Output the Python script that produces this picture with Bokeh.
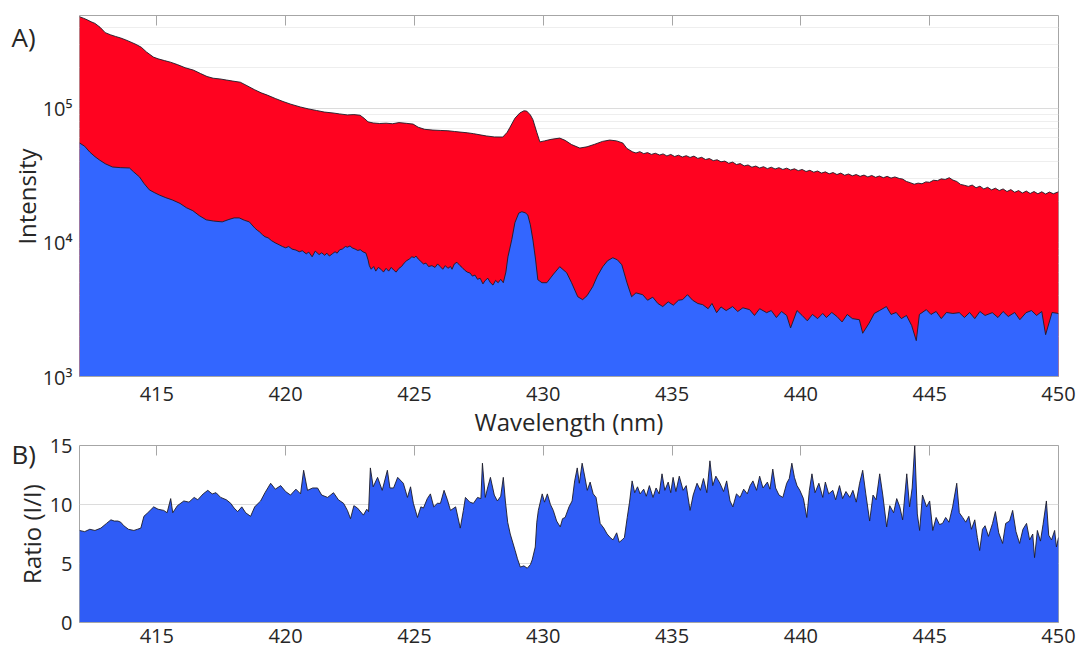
import math
from bokeh.plotting import figure
from bokeh.models import (FixedTicker, LogAxis, LinearAxis, Label, Range1d, Grid,
                          CustomJSTickFormatter, LinearScale)
from bokeh.core.properties import value
from bokeh.layouts import column, row
from bokeh.embed import file_html
from bokeh.resources import INLINE

# ---------------- data ----------------
red_wl = [412.00, 412.15, 412.30, 412.45, 412.60, 412.80, 413.00, 413.20, 413.40, 413.60,
          413.80, 414.00, 414.20, 414.40, 414.60, 414.87, 415.05, 415.30, 415.53, 415.80,
          416.10, 416.42, 416.70, 416.95, 417.19, 417.45, 417.70, 417.95, 418.24, 418.50,
          418.80, 419.05, 419.29, 419.60, 419.90, 420.20, 420.57, 420.90, 421.20, 421.50,
          421.84, 422.10, 422.40, 422.65, 422.89, 423.05, 423.20, 423.40, 423.65, 423.90,
          424.15, 424.40, 424.70, 424.95, 425.15, 425.40, 425.72, 426.00, 426.30, 426.55,
          426.77, 427.05, 427.30, 427.55, 427.80, 428.10, 428.43, 428.60, 428.71, 428.90,
          429.09, 429.25, 429.36, 429.50, 429.60, 429.75, 429.87, 430.05, 430.30, 430.64,
          430.85, 431.10, 431.42, 431.70, 432.00, 432.30, 432.58, 432.85, 433.09, 433.25,
          433.47, 433.60, 433.75, 433.90, 434.05, 434.20, 434.35, 434.52, 434.65, 434.80,
          434.95, 435.10, 435.25, 435.40, 435.55, 435.70, 435.85, 436.00, 436.15, 436.30,
          436.45, 436.60, 436.75, 436.90, 437.05, 437.20, 437.35, 437.50, 437.65, 437.80,
          437.95, 438.10, 438.25, 438.40, 438.55, 438.70, 438.85, 439.00, 439.15, 439.30,
          439.45, 439.60, 439.75, 439.90, 440.05, 440.20, 440.35, 440.50, 440.65, 440.80,
          440.95, 441.10, 441.25, 441.40, 441.55, 441.70, 441.85, 442.00, 442.15, 442.30,
          442.45, 442.60, 442.75, 442.90, 443.05, 443.20, 443.35, 443.50, 443.65, 443.82,
          443.95, 444.10, 444.25, 444.40, 444.55, 444.70, 444.85, 445.00, 445.15, 445.30,
          445.45, 445.60, 445.76, 445.90, 446.05, 446.20, 446.35, 446.50, 446.65, 446.80,
          446.95, 447.10, 447.25, 447.40, 447.55, 447.70, 447.85, 448.00, 448.15, 448.30,
          448.45, 448.60, 448.75, 448.90, 449.05, 449.20, 449.35, 449.50, 449.65, 449.80,
          450.00]
red_int = [480000, 468000, 455000, 440000, 428000, 400000, 365000, 352000, 342000, 333000,
           322000, 310000, 298000, 284000, 262000, 240000, 233000, 226000, 220000, 211000,
           200000, 192000, 181000, 172000, 167000, 165000, 162000, 159000, 156000, 147000,
           137000, 130000, 125000, 118000, 112000, 107000, 102000, 98500, 96000, 93500,
           92000, 90500, 89000, 89500, 88500, 84000, 79000, 77500, 76800, 77200,
           76500, 78000, 77000, 76000, 72000, 69500, 68600, 68200, 67800, 67000,
           66300, 65500, 64500, 63200, 62000, 61000, 60900, 66000, 72000, 84000,
           92000, 95500, 95000, 89000, 82000, 66000, 56000, 57000, 58500, 59800,
           57500, 53500, 50400, 51500, 53800, 56500, 57800, 57000, 54900, 50000,
           47200, 46300, 47400, 45800, 46600, 45200, 46100, 44700, 45600, 44000,
           45200, 43600, 44600, 43200, 44200, 42900, 43900, 42200, 43000, 41400,
           42100, 40600, 41200, 39800, 40300, 38800, 39600, 38000, 38600, 37100,
           37700, 36300, 37000, 35800, 36600, 35400, 36300, 35200, 36000, 34900,
           35700, 34600, 35300, 34200, 34900, 33700, 34400, 33300, 34000, 32800,
           33500, 32400, 33100, 32000, 32800, 31600, 32300, 31300, 32000, 31000,
           31700, 30700, 31500, 30500, 31200, 30300, 31000, 30100, 30700, 29900,
           29600, 28400, 27800, 27100, 27600, 27300, 28200, 28000, 29000, 28800,
           29700, 29400, 30300, 29100, 28400, 27000, 26600, 26100, 26700, 25500,
           26200, 25000, 25700, 24600, 25300, 24300, 25000, 23900, 24700, 23600,
           24300, 23300, 24100, 23100, 23900, 23000, 23800, 22900, 23700, 23000,
           23800]

blue_wl = [412.00, 412.20, 412.40, 412.60, 412.78, 413.00, 413.28, 413.60, 413.94, 414.10,
           414.33, 414.50, 414.71, 414.90, 415.10, 415.35, 415.60, 415.90, 416.15, 416.40,
           416.65, 416.92, 417.20, 417.54, 417.80, 418.00, 418.20, 418.40, 418.59, 418.80,
           418.90, 418.98, 419.10, 419.20, 419.32, 419.45, 419.60, 419.75, 419.88, 420.00,
           420.12, 420.25, 420.40, 420.53, 420.65, 420.80, 420.90, 421.03, 421.15, 421.30,
           421.40, 421.52, 421.60, 421.70, 421.81, 421.92, 422.00, 422.10, 422.20, 422.32,
           422.40, 422.50, 422.58, 422.70, 422.80, 422.90, 423.00, 423.12, 423.20, 423.25,
           423.32, 423.42, 423.50, 423.60, 423.70, 423.80, 423.90, 424.00, 424.10, 424.20,
           424.29, 424.40, 424.50, 424.60, 424.70, 424.80, 424.90, 425.00, 425.06, 425.15,
           425.25, 425.35, 425.45, 425.55, 425.68, 425.80, 425.90, 426.00, 426.10, 426.20,
           426.30, 426.40, 426.46, 426.55, 426.65, 426.77, 426.85, 426.95, 427.05, 427.16,
           427.25, 427.35, 427.45, 427.55, 427.66, 427.75, 427.85, 427.95, 428.05, 428.15,
           428.25, 428.35, 428.45, 428.55,
           428.63, 428.78, 428.90, 429.05, 429.17, 429.30, 429.40, 429.50, 429.60, 429.70,
           429.79, 429.95, 430.14, 430.40, 430.64, 430.91, 431.10, 431.34, 431.53, 431.70,
           431.92, 432.10, 432.31, 432.50, 432.70, 432.88, 433.05, 433.25, 433.43, 433.60,
           433.86, 434.05, 434.25, 434.45, 434.64, 434.85, 435.05, 435.25, 435.41, 435.60,
           435.80, 436.00, 436.19, 436.40, 436.55, 436.73, 436.90, 437.10, 437.35, 437.55,
           437.75, 438.01, 438.20, 438.40, 438.67, 438.85, 439.05, 439.25, 439.45, 439.60,
           439.85, 440.05, 440.25, 440.45, 440.65, 440.85, 440.99, 441.20, 441.40, 441.60,
           441.80, 442.00, 442.27, 442.40, 442.65, 442.85, 443.05, 443.32, 443.50, 443.70,
           443.90, 444.10, 444.30, 444.48, 444.60, 444.87, 445.05, 445.25, 445.45, 445.65,
           445.90, 446.15, 446.35, 446.55, 446.75, 446.95, 447.15, 447.43, 447.65, 447.85,
           448.05, 448.30, 448.50, 448.74, 448.95, 449.15, 449.35, 449.50, 449.75, 450.00]
blue_int = [55000, 52000, 47000, 43500, 41000, 38500, 36400, 36000, 35800, 33500,
            30700, 27500, 24600, 23500, 22500, 21500, 20700, 19500, 18100, 17200,
            15800, 14700, 14400, 14200, 14800, 15200, 15200, 14600, 14200, 12800,
            12300, 12000, 11400, 11000, 10800, 10300, 9900, 9580, 9300, 9100,
            9300, 8900, 8750, 8500, 8650, 8200, 8450, 7800, 8600, 8100,
            8350, 8000, 8300, 7900, 8200, 8500, 8300, 8800, 8900, 9300,
            9200, 9400, 9100, 8900, 8700, 8800, 8500, 8300, 7400, 6700,
            6300, 6600, 6100, 6500, 6300, 6000, 6400, 6100, 6500, 6200,
            6000, 6400, 6600, 7000, 7300, 7500, 7800, 7700, 7900, 7500,
            7200, 6900, 7000, 6600, 6700, 6500, 6900, 6600, 6300, 6700,
            6400, 6600, 6300, 6900, 7100, 6700, 6500, 6200, 6000, 5900,
            5600, 5700, 5300, 5400, 4900, 5200, 5400, 5000, 4800, 5200,
            5000, 5300, 5000, 6000,
            7800, 10500, 14000, 16500, 16900, 16600, 16000, 13500, 10400, 7500,
            5260, 5000, 5000, 5800, 6580, 5930, 5000, 3930, 3740, 4000,
            4670, 5600, 6580, 7300, 7670, 7400, 6800, 5000, 3930, 4200,
            4070, 3700, 3900, 3500, 3320, 3600, 3400, 3700, 3740, 4070,
            3700, 3500, 3430, 3200, 3500, 2990, 3300, 3100, 3320, 3050,
            3250, 3150, 2850, 3200, 2990, 3100, 2750, 3050, 2850, 2300,
            3100, 2850, 2600, 2900, 2700, 2950, 2750, 3000, 2800, 2550,
            2900, 2700, 2650, 2100, 2500, 2950, 3100, 3320, 2900, 3000,
            2700, 2850, 2400, 1850, 2900, 3150, 2900, 3050, 2700, 3000,
            2950, 2990, 2750, 3000, 2700, 3050, 2850, 2990, 2750, 3050,
            2800, 3000, 2650, 2990, 3100, 2850, 3050, 2050, 3000, 2950]

ratio_wl = [412.00, 412.20, 412.40, 412.60, 412.83, 413.05, 413.22, 413.35, 413.49, 413.60,
            413.72, 413.90, 414.11, 414.25, 414.38, 414.50, 414.65, 414.88, 415.05, 415.27,
            415.40, 415.54, 415.62, 415.80, 416.05, 416.25, 416.45, 416.59, 416.80, 416.98,
            417.15, 417.30, 417.48, 417.70, 417.87, 418.00, 418.14, 418.30, 418.45, 418.64,
            418.80, 419.03, 419.20, 419.42, 419.60, 419.81, 420.00, 420.19, 420.40, 420.58,
            420.70, 420.85, 421.05, 421.24, 421.40, 421.63, 421.86, 422.05, 422.25, 422.40,
            422.52, 422.65, 422.79, 423.02, 423.15, 423.22, 423.29, 423.40, 423.57, 423.75,
            423.95, 424.05, 424.19, 424.35, 424.57, 424.73, 424.85, 424.96, 425.12, 425.25,
            425.35, 425.50, 425.62, 425.75, 425.89, 426.01, 426.15, 426.28, 426.40, 426.60,
            426.78, 426.90, 426.98, 427.15, 427.29, 427.45, 427.58, 427.64, 427.75, 427.85,
            427.95, 428.10, 428.22, 428.35, 428.45, 428.53, 428.62, 428.72, 428.91, 429.00,
            429.11, 429.25, 429.38, 429.50, 429.57, 429.69, 429.75, 429.81, 429.96, 430.05,
            430.16, 430.28, 430.39, 430.52, 430.66, 430.75, 430.85, 431.00, 431.12, 431.22,
            431.32, 431.40, 431.51, 431.60, 431.71, 431.82, 431.94, 432.05, 432.21, 432.35,
            432.48, 432.60, 432.71, 432.85, 432.95, 433.06, 433.15, 433.26, 433.35, 433.45,
            433.55, 433.66, 433.76, 433.90, 434.00, 434.12, 434.26, 434.38, 434.50, 434.61,
            434.72, 434.85, 434.95, 435.04, 435.15, 435.28, 435.43, 435.55, 435.70, 435.82,
            435.97, 436.10, 436.22, 436.35, 436.47, 436.58, 436.70, 436.86, 437.00, 437.12,
            437.25, 437.36, 437.50, 437.64, 437.78, 437.92, 438.03, 438.14, 438.28, 438.40,
            438.53, 438.70, 438.80, 438.91, 439.02, 439.15, 439.30, 439.45, 439.55, 439.65,
            439.75, 439.85, 439.96, 440.10, 440.23, 440.33, 440.43, 440.55, 440.70, 440.85,
            440.95, 441.08, 441.24, 441.35, 441.50, 441.62, 441.75, 441.90, 442.02, 442.15,
            442.28, 442.40, 442.52, 442.67, 442.80, 442.92, 443.06, 443.18, 443.33, 443.45,
            443.60, 443.72, 443.84, 443.95, 444.11, 444.22, 444.32, 444.42, 444.52, 444.61,
            444.72, 444.88, 445.00, 445.12, 445.25, 445.38, 445.50, 445.62, 445.75, 445.89,
            446.05, 446.15, 446.28, 446.40, 446.52, 446.62, 446.75, 446.85, 446.94, 447.05,
            447.15, 447.28, 447.44, 447.55, 447.68, 447.83, 447.95, 448.10, 448.22, 448.35,
            448.49, 448.62, 448.76, 448.88, 449.00, 449.07, 449.18, 449.30, 449.40, 449.53,
            449.62, 449.73, 449.85, 449.92, 450.00]
ratio_val = [7.8, 7.7, 7.9, 7.8, 8.0, 8.4, 8.7, 8.6, 8.6, 8.5,
             8.2, 7.9, 7.8, 7.9, 8.0, 9.0, 9.3, 9.8, 9.6, 9.5,
             9.3, 10.5, 9.3, 9.9, 10.3, 10.2, 10.6, 10.4, 10.9, 11.2,
             10.9, 11.0, 10.6, 10.4, 10.1, 9.7, 9.4, 9.8, 9.3, 9.0,
             9.8, 10.3, 11.0, 11.8, 11.3, 11.6, 11.1, 10.8, 11.3, 10.9,
             12.9, 11.2, 11.4, 11.4, 10.8, 10.6, 11.0, 10.4, 10.1, 9.5,
             8.8, 9.9, 9.7, 9.1, 9.6, 9.4, 13.1, 11.5, 12.3, 11.2,
             12.9, 11.4, 11.4, 12.3, 11.8, 10.6, 11.5, 10.1, 8.9, 9.8,
             9.7, 10.5, 10.9, 9.8, 10.1, 10.1, 11.2, 10.4, 9.5, 9.8,
             8.0, 9.5, 10.6, 10.2, 10.1, 10.6, 10.5, 13.5, 10.6, 11.5,
             12.3, 10.8, 10.3, 10.7, 12.3, 10.3, 8.5, 7.5, 6.1, 5.4,
             4.7, 4.8, 4.6, 4.9, 5.3, 6.4, 8.5, 9.5, 10.9, 10.2,
             10.9, 10.0, 9.5, 8.6, 8.1, 8.8, 8.9, 9.8, 10.3, 12.0,
             13.1, 11.8, 13.5, 12.5, 11.2, 11.9, 10.9, 10.6, 8.4, 8.0,
             7.5, 7.2, 7.0, 7.6, 6.8, 7.0, 7.2, 8.9, 10.2, 12.0,
             11.0, 11.5, 10.9, 11.3, 10.7, 11.6, 10.6, 11.4, 10.9, 12.6,
             11.2, 11.9, 11.0, 12.3, 11.1, 12.4, 11.2, 11.6, 9.5, 10.8,
             11.8, 11.2, 12.2, 11.0, 13.7, 11.6, 12.4, 11.8, 11.1, 12.0,
             10.3, 9.8, 10.9, 10.6, 11.3, 10.9, 11.6, 12.0, 11.2, 12.4,
             11.4, 11.9, 11.3, 13.0, 11.4, 10.8, 10.6, 11.8, 12.2, 13.5,
             12.3, 11.6, 11.2, 10.5, 8.9, 11.2, 12.6, 11.0, 11.8, 10.6,
             11.9, 10.9, 11.2, 10.4, 11.6, 10.5, 11.1, 10.6, 11.2, 10.2,
             11.8, 12.9, 10.9, 8.6, 10.8, 10.4, 12.6, 10.8, 8.1, 9.9,
             9.3, 10.5, 9.8, 8.7, 12.6, 9.8, 11.4, 15.0, 9.2, 7.8,
             10.8, 9.8, 10.3, 7.8, 8.9, 8.3, 8.4, 8.9, 8.5, 9.8,
             11.8, 9.3, 8.9, 8.5, 9.0, 7.9, 8.7, 7.2, 6.1, 7.9,
             8.2, 7.3, 8.4, 9.4, 7.6, 6.7, 8.4, 8.6, 9.5, 7.7,
             6.7, 7.9, 8.4, 7.0, 7.5, 5.5, 7.8, 6.9, 8.3, 10.3,
             7.4, 7.0, 7.8, 6.4, 7.2]

x_ticks = [415, 420, 425, 430, 435, 440, 445, 450]
int_ticks = [1e3, 1e4, 1e5]
int_tick_labels = ["10\u00b3", "10\u2074", "10\u2075"]
int_minor = [2e3, 3e3, 4e3, 5e3, 6e3, 7e3, 8e3, 9e3,
             2e4, 3e4, 4e4, 5e4, 6e4, 7e4, 8e4, 9e4,
             2e5, 3e5, 4e5]
ratio_ticks = [0, 5, 10, 15]
ratio_tick_labels = ["0", "5", "10", "15"]

X_RANGE = (412, 450)
INT_RANGE = (1e3, 4.9e5)
RATIO_RANGE = (0, 15)

# ---------------- layout geometry (pixels) ----------------
W, H = 1076, 651
LEFT = 79            # width of the left label column
RIGHT_PAD = 18
A_TOP, A_BOTTOM = 15, 377      # frame of panel A
B_TOP, B_BOTTOM = 445, 622     # frame of panel B
P1_H = 440
P2_H = H - P1_H

# ---------------- styles ----------------
RED = "#FF0320"
BLUE = "#3366FF"
BLUE2 = "#2F5CF6"
EDGE = "#1c1c28"
FRAME = "#a6a6a6"
TXT = "#262626"
FONT = "Open Sans"

BLANK = CustomJSTickFormatter(code="return '';")


def mirror_axis(cls, ticks, minor, side, p):
    ax = cls(ticker=FixedTicker(ticks=ticks, minor_ticks=minor),
             formatter=BLANK,
             major_tick_in=10, major_tick_out=0,
             minor_tick_in=5 if minor else 0, minor_tick_out=0,
             major_label_standoff=0, major_label_text_font_size="1px",
             axis_line_color=None, major_tick_line_color=FRAME,
             minor_tick_line_color=FRAME, level="underlay")
    p.add_layout(ax, side)


def style_panel(p, ticks, minor, x_standoff, log):
    p.outline_line_color = FRAME
    p.outline_line_width = 1
    p.background_fill_color = "white"
    p.border_fill_color = "white"
    for g in p.grid:
        g.visible = False
    p.add_layout(Grid(dimension=1, ticker=FixedTicker(ticks=ticks, minor_ticks=minor),
                      grid_line_color="#dcdcdc",
                      minor_grid_line_color="#eeeeee" if minor else None))
    bx = p.below[0]
    bx.ticker = FixedTicker(ticks=x_ticks, minor_ticks=[])
    bx.major_tick_in = 0
    bx.major_tick_out = 0
    bx.minor_tick_in = 0
    bx.minor_tick_out = 0
    bx.axis_line_color = FRAME
    bx.major_label_text_font = FONT
    bx.major_label_text_font_size = "20px"
    bx.major_label_text_color = TXT
    bx.major_label_standoff = x_standoff
    mirror_axis(LinearAxis, x_ticks, [], "above", p)
    mirror_axis(LogAxis if log else LinearAxis, ticks, minor, "right", p)


# ---------------- panel A ----------------
p1 = figure(width=W - LEFT, height=P1_H, x_range=Range1d(*X_RANGE), y_range=Range1d(*INT_RANGE),
            y_axis_type="log", y_axis_location=None, output_backend="svg", toolbar_location=None,
            min_border_left=0, min_border_right=RIGHT_PAD, min_border_top=A_TOP,
            min_border_bottom=P1_H - A_BOTTOM)
p1.varea(x=red_wl, y1=1.0, y2=red_int, fill_color=RED)
p1.line(red_wl, red_int, line_color=EDGE, line_width=0.9)
p1.varea(x=blue_wl, y1=1.0, y2=blue_int, fill_color=BLUE)
p1.line(blue_wl, blue_int, line_color=EDGE, line_width=0.9)
style_panel(p1, int_ticks, int_minor, 10, True)
bx1 = p1.below[0]
bx1.axis_label = "Wavelength (nm)"
bx1.axis_label_text_font = FONT
bx1.axis_label_text_font_size = "24px"
bx1.axis_label_text_font_style = "normal"
bx1.axis_label_text_color = TXT
bx1.axis_label_standoff = 1

# ---------------- panel B ----------------
p2 = figure(width=W - LEFT, height=P2_H, x_range=Range1d(*X_RANGE), y_range=Range1d(*RATIO_RANGE),
            y_axis_location=None, output_backend="svg", toolbar_location=None,
            min_border_left=0, min_border_right=RIGHT_PAD, min_border_top=B_TOP - P1_H,
            min_border_bottom=H - B_BOTTOM)
p2.varea(x=ratio_wl, y1=0, y2=ratio_val, fill_color=BLUE2)
p2.line(ratio_wl, ratio_val, line_color=EDGE, line_width=0.9)
style_panel(p2, ratio_ticks, [], 6, False)

# ---------------- left label column (y tick labels, y titles, panel letters) ----------------
# its vertical scales reproduce the two panels' scales over the full page height
la, lb = math.log10(INT_RANGE[0]), math.log10(INT_RANGE[1])
k_a = (lb - la) / (A_BOTTOM - A_TOP)
left_int_range = Range1d(10 ** (la - (H - A_BOTTOM) * k_a), 10 ** (la + A_BOTTOM * k_a))
k_b = (RATIO_RANGE[1] - RATIO_RANGE[0]) / (B_BOTTOM - B_TOP)
left_ratio_range = Range1d(RATIO_RANGE[0] - (H - B_BOTTOM) * k_b, RATIO_RANGE[0] + B_BOTTOM * k_b)

pl = figure(width=LEFT, height=H, x_range=Range1d(0, LEFT), y_range=left_int_range,
            y_axis_type="log", x_axis_location=None, y_axis_location=None,
            output_backend="svg", toolbar_location=None,
            min_border_left=0, min_border_right=0, min_border_top=0, min_border_bottom=0)
pl.extra_y_ranges = {"ratio": left_ratio_range}
pl.extra_y_scales = {"ratio": LinearScale()}
pl.outline_line_color = None
pl.background_fill_color = "white"
pl.border_fill_color = "white"
for g in pl.grid:
    g.visible = False

tick_x = LEFT - 7
pl.text(x=tick_x, y=int_ticks, text=int_tick_labels, text_align="right",
        text_baseline="middle", text_font=value(FONT), text_font_size="20px", text_color=TXT)
pl.text(x=tick_x, y=ratio_ticks, text=ratio_tick_labels, text_align="right",
        text_baseline="middle", text_font=value(FONT), text_font_size="20px", text_color=TXT,
        y_range_name="ratio")
pl.text(x=26, y=[10 ** ((la + lb) / 2)], text=["Intensity"], angle=math.pi / 2,
        text_align="center", text_baseline="middle", text_font=value(FONT),
        text_font_size="24px", text_color=TXT)
pl.text(x=31, y=[(RATIO_RANGE[0] + RATIO_RANGE[1]) / 2], text=["Ratio (I/I)"], angle=math.pi / 2,
        text_align="center", text_baseline="middle", text_font=value(FONT),
        text_font_size="24px", text_color=TXT, y_range_name="ratio")
pl.add_layout(Label(x=11, y=H - 36, x_units="screen", y_units="screen", text="A)",
                    text_font=FONT, text_font_size="26px", text_color=TXT,
                    text_baseline="middle", text_align="left"))
pl.add_layout(Label(x=11, y=H - 453, x_units="screen", y_units="screen", text="B)",
                    text_font=FONT, text_font_size="26px", text_color=TXT,
                    text_baseline="middle", text_align="left"))

layout = row(pl, column(p1, p2, spacing=0), spacing=0)
open("out.html", "w").write(file_html(layout, INLINE))
